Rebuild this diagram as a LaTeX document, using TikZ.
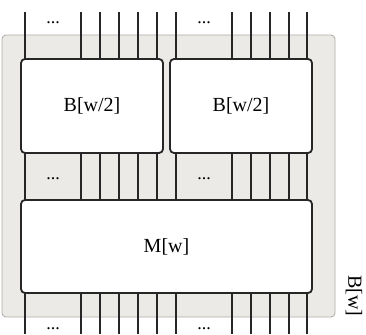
\documentclass[tikz,border=0pt]{standalone}
\usepackage{fontspec}
\setmainfont{Liberation Serif}
\begin{document}
\begin{tikzpicture}[x=1pt,y=-1pt,
  outerbox/.style={line width=0.9pt, rounded corners=4pt, inner sep=0pt},
  blockbox/.style={draw=black!85, fill=white, line width=1.8pt, rounded corners=4pt, inner sep=0pt, font=\fontsize{20}{24}\selectfont},
  wire/.style={draw=black!85, line width=1.8pt},
  dotslabel/.style={font=\fontsize{18}{20}\selectfont, inner sep=0pt, anchor=base}
]
\useasboundingbox (0,0) rectangle (366,334);
\definecolor{outerfill}{HTML}{ECEAE7}
\definecolor{outerdraw}{HTML}{B3AEA8}
\node[outerbox, fill=outerfill, draw=outerdraw, minimum width=333pt, minimum height=282pt] (outer) at (168.5,176) {};
% wires
\foreach \x in {25,81,100,119,138,157,176,232,251,270,289,307} {
  \draw[wire] (\x,12) -- (\x,59);
  \draw[wire] (\x,153) -- (\x,200);
  \draw[wire] (\x,293) -- (\x,334);
}
\draw[wire] (25,153) -- (157,153);
\draw[wire] (176,153) -- (307,153);
\draw[wire] (25,200) -- (307,200);
\node[blockbox, minimum width=142pt, minimum height=94pt] (B1) at (92,106) {B[w/2]};
\node[blockbox, minimum width=142pt, minimum height=94pt] (B2) at (241,106) {B[w/2]};
\node[blockbox, minimum width=291pt, minimum height=93pt] (M) at (166.5,246.5) {M[w]};
\node[dotslabel] (d1) at (53,24) {...};
\node[dotslabel] (d2) at (204,24) {...};
\node[dotslabel] (d3) at (53,179) {...};
\node[dotslabel] (d4) at (204,179) {...};
\node[dotslabel] (d5) at (53,329) {...};
\node[dotslabel] (d6) at (204,329) {...};
\node[font=\fontsize{20}{24}\selectfont, rotate=-90, inner sep=0pt] (Bw) at (354,296) {B[w]};
\end{tikzpicture}
\end{document}
